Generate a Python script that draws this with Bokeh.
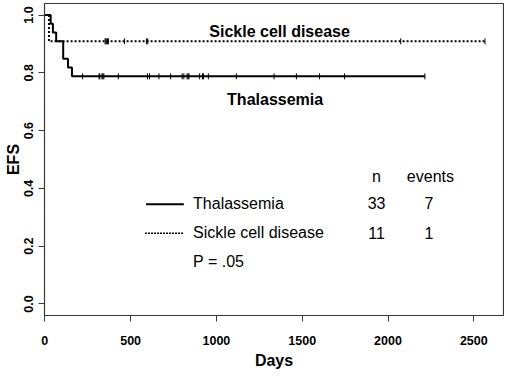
import numpy as np
from bokeh.plotting import figure
from bokeh.models import Range1d, FixedTicker, Label, CustomJSTickFormatter
from bokeh.embed import file_html
from bokeh.resources import INLINE

# ---- data (days) ----
thal_events = [34, 47, 66, 107, 107, 135, 158]
thal_censored = [220, 316, 320, 333, 338, 344, 428, 598, 610, 665, 733, 800, 810,
                 829, 835, 840, 902, 919, 925, 953, 1116, 1336, 1466, 1601, 1747, 2215]
scd_events = [24]
scd_censored = [351, 356, 361, 366, 370, 464, 592, 600, 2074, 2565]

x_ticks = [0, 500, 1000, 1500, 2000, 2500]
y_ticks = [0.0, 0.2, 0.4, 0.6, 0.8, 1.0]

legend_rows = ["Thalassemia", "Sickle cell disease"]
legend_n = ["33", "11"]
legend_events = ["7", "1"]
p_value_text = "P = .05"

FONT = "Liberation Sans"


def km(events, censored):
    times = sorted(set(events) | set(censored))
    n = len(events) + len(censored)
    s = 1.0
    xs, ys = [0.0], [1.0]
    surv_at = {}
    for t in times:
        d = events.count(t)
        c = censored.count(t)
        if d:
            s *= (1 - d / n)
        xs.append(t)
        ys.append(s)
        surv_at[t] = s
        n -= d + c
    cx = list(censored)
    cy = [surv_at[t] for t in censored]
    return xs, ys, cx, cy


p = figure(width=504, height=371, output_backend="svg", toolbar_location=None,
           x_range=Range1d(-2, 2673), y_range=Range1d(-0.04, 1.04),
           min_border_left=44, min_border_right=1, min_border_top=3,
           min_border_bottom=52)
p.grid.visible = False
p.outline_line_color = "#3a3a3a"
p.outline_line_width = 1.2
p.background_fill_color = "white"

for ax in (p.xaxis[0], p.yaxis[0]):
    ax.axis_line_color = None
    ax.major_tick_line_color = "#3a3a3a"
    ax.major_tick_out = 6
    ax.major_tick_in = 0
    ax.minor_tick_line_color = None
    ax.major_label_text_font = FONT
    ax.major_label_text_font_style = "bold"
    ax.major_label_text_font_size = "12.5px"
    ax.major_label_text_color = "black"
    ax.axis_label_text_font = FONT
    ax.axis_label_text_font_style = "bold"
    ax.axis_label_text_font_size = "16px"
    ax.axis_label_text_color = "black"

p.xaxis.ticker = FixedTicker(ticks=x_ticks)
p.yaxis.ticker = FixedTicker(ticks=y_ticks)
p.yaxis.formatter = CustomJSTickFormatter(code="return tick.toFixed(1);")
p.yaxis.major_label_orientation = "vertical"
p.xaxis.major_label_standoff = 14
p.yaxis.major_label_standoff = 5
p.xaxis.axis_label = "Days"
p.yaxis.axis_label = "EFS"
p.xaxis.axis_label_standoff = 4
p.yaxis.axis_label_standoff = 0

# curves
tx, ty, tcx, tcy = km(thal_events, thal_censored)
sx, sy, scx, scy = km(scd_events, scd_censored)

p.step(sx, sy, mode="after", line_color="black", line_width=2, line_dash="2 2")
p.step(tx, ty, mode="after", line_color="black", line_width=2)
p.scatter(tcx, tcy, marker="dash", angle=np.pi / 2, size=6, line_color="black", line_width=1)
p.scatter(scx, scy, marker="dash", angle=np.pi / 2, size=6, line_color="black", line_width=1)

# curve labels
p.add_layout(Label(x=1368, y=0.943, text="Sickle cell disease", text_font=FONT,
                   text_font_style="bold", text_font_size="16px", text_color="black",
                   text_align="center", text_baseline="middle"))
p.add_layout(Label(x=1342, y=0.706, text="Thalassemia", text_font=FONT,
                   text_font_style="bold", text_font_size="16px", text_color="black",
                   text_align="center", text_baseline="middle"))

# legend table
p.line([590, 810], [0.345, 0.345], line_color="black", line_width=2)
p.line([584, 810], [0.245, 0.245], line_color="black", line_width=1.5, line_dash="2 1")
row_y = [0.348, 0.247]
for i, name in enumerate(legend_rows):
    p.add_layout(Label(x=864, y=row_y[i], text=name, text_font=FONT, text_font_size="16px",
                       text_color="black", text_align="left", text_baseline="middle"))
    p.add_layout(Label(x=1933, y=row_y[i], text=legend_n[i], text_font=FONT, text_font_size="16px",
                       text_color="black", text_align="center", text_baseline="middle"))
    p.add_layout(Label(x=2238, y=row_y[i], text=legend_events[i], text_font=FONT,
                       text_font_size="16px", text_color="black",
                       text_align="center", text_baseline="middle"))
p.add_layout(Label(x=1933, y=0.440, text="n", text_font=FONT, text_font_size="16px",
                   text_color="black", text_align="center", text_baseline="middle"))
p.add_layout(Label(x=2247, y=0.440, text="events", text_font=FONT, text_font_size="16px",
                   text_color="black", text_align="center", text_baseline="middle"))
p.add_layout(Label(x=864, y=0.147, text=p_value_text, text_font=FONT, text_font_size="16px",
                   text_color="black", text_align="left", text_baseline="middle"))

open("out.html", "w").write(file_html(p, INLINE))
